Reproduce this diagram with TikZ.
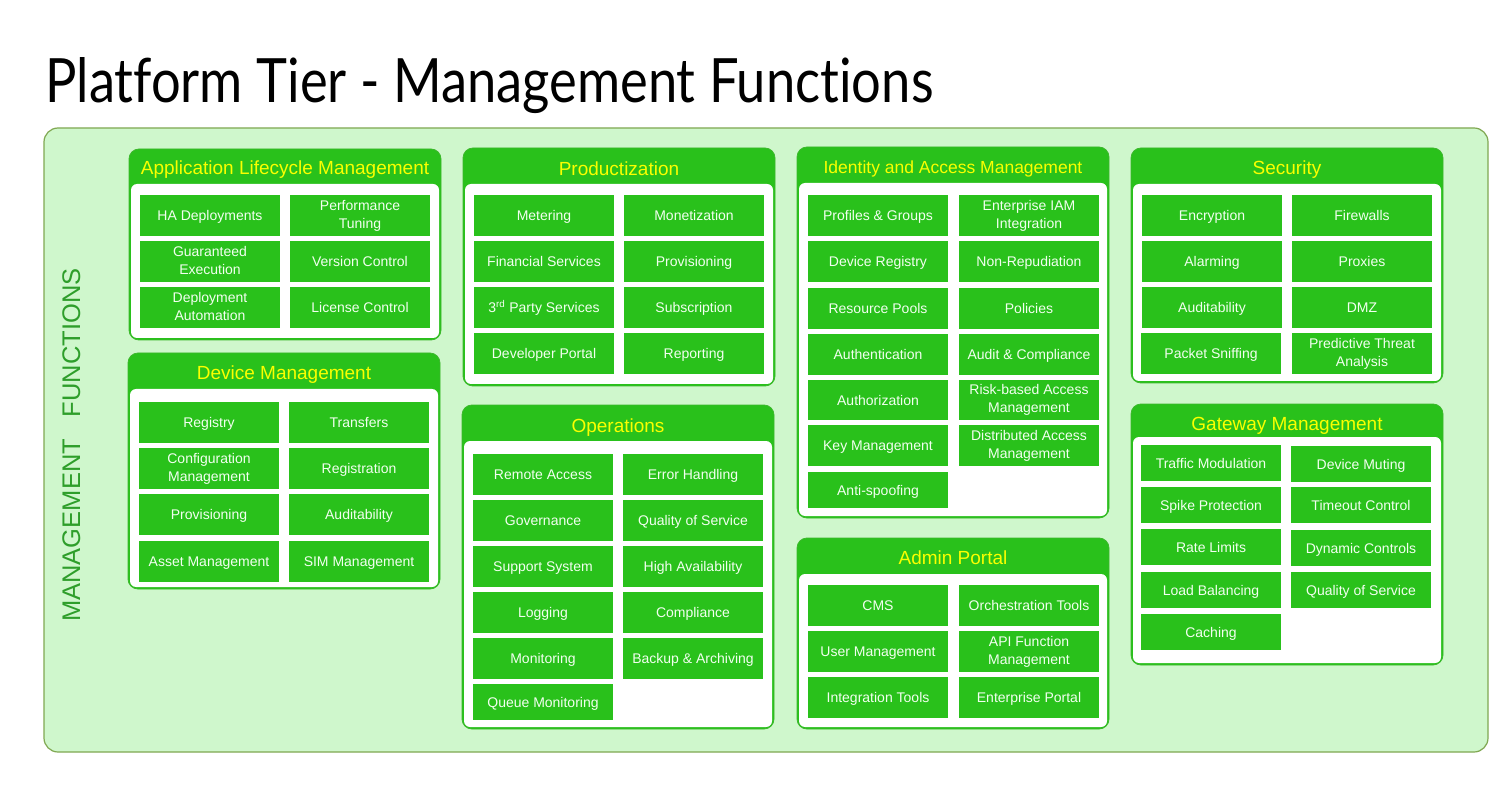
\documentclass[tikz,border=0pt]{standalone}
\usepackage{fontspec}
\usepackage{graphicx}
\setmainfont{Liberation Sans}
\newfontfamily\titlefont[Ligatures={NoCommon}]{Lato}
\definecolor{bgpanel}{RGB}{207,247,204}
\definecolor{bgborder}{RGB}{128,168,82}
\definecolor{pgreen}{RGB}{41,193,27}
\definecolor{pborder}{RGB}{60,184,44}
\definecolor{headyellow}{RGB}{250,255,0}
\definecolor{celltext}{RGB}{242,255,240}
\definecolor{vtext}{RGB}{46,158,42}
\newcommand\mfpanel[5]{%
  \draw[panelbox] (#1,#2) rectangle (#3,#4);
  \fill[innerbox] (#1+2,#5) rectangle (#3-2,#4-2);}
\tikzset{
  outerbox/.style={fill=bgpanel, draw=bgborder, line width=1.2pt, rounded corners=14pt},
  panelbox/.style={fill=pgreen, draw=pborder, line width=0.8pt, rounded corners=10pt},
  innerbox/.style={fill=white, rounded corners=6pt},
  cell/.style={fill=pgreen, text=celltext, minimum width=140pt, minimum height=41pt,
    inner sep=0pt, align=center, font=\fontsize{14}{18}\selectfont,
    execute at begin node={\rule{0pt}{13pt}},
    execute at end node={\rule[-3pt]{0pt}{3pt}}},
  cellh/.style={cell, minimum height=36pt},
  head/.style={text=headyellow, font=\fontsize{19}{22}\selectfont, anchor=base, inner sep=0pt},
  vlabel/.style={text=vtext, font=\fontsize{25.5}{28}\selectfont, anchor=base, inner sep=0pt, rotate=90},
}
\begin{document}
\begin{tikzpicture}[x=1pt, y=-1pt]
\useasboundingbox (0,0) rectangle (1507,799);
\fill[white] (0,0) rectangle (1507,799);

\node[anchor=base west, inner sep=0pt] (title) at (45,103)
  {\resizebox{888pt}{45pt}{\titlefont Plat\kern0pt form Tier - Management Func\kern0pt tions}};

\draw[outerbox] (44,128) rectangle (1488,752);
\node[vlabel] (mf) at (80,445) {MANAGEMENT\hspace{22pt}FUNCTIONS};

% Application Lifecycle Management
\mfpanel{129}{149}{441}{340}{184}
\node[head] (almT) at (285,174.7) {Application Lifecycle Management};
\node[cell] (alm1) at (210,215.5) {HA Deployments};
\node[cell] (alm2) at (360,215.5) {Performance\\Tuning};
\node[cell] (alm3) at (210,261.5) {Guaranteed\\Execution};
\node[cell] (alm4) at (360,261.5) {Version Control};
\node[cell] (alm5) at (210,307.5) {Deployment\\Automation};
\node[cell] (alm6) at (360,307.5) {License Control};

% Device Management
\mfpanel{128}{353}{440}{589}{389}
\node[head] (dmT) at (284,380) {Device Management};
\node[cell] (dm1) at (209,422.5) {Registry};
\node[cell] (dm2) at (359,422.5) {Transfers};
\node[cell] (dm3) at (209,468.5) {Configuration\\Management};
\node[cell] (dm4) at (359,468.5) {Registration};
\node[cell] (dm5) at (209,514.5) {Provisioning};
\node[cell] (dm6) at (359,514.5) {Auditability};
\node[cell] (dm7) at (209,561.5) {Asset Management};
\node[cell] (dm8) at (359,561.5) {SIM Management};

% Productization
\mfpanel{463}{148}{775}{386}{184}
\node[head] (prT) at (619,175.3) {Productization};
\node[cell] (pr1) at (544,215.5) {Metering};
\node[cell] (pr2) at (694,215.5) {Monetization};
\node[cell] (pr3) at (544,261.5) {Financial Services};
\node[cell] (pr4) at (694,261.5) {Provisioning};
\node[cell] (pr5) at (544,307.5) {3\textsuperscript{rd} Party Services};
\node[cell] (pr6) at (694,307.5) {Subscription};
\node[cell] (pr7) at (544,353.5) {Developer Portal};
\node[cell] (pr8) at (694,353.5) {Reporting};

% Operations
\mfpanel{462}{405}{774}{729}{441}
\node[head] (opT) at (618,432.7) {Operations};
\node[cell] (op1) at (543,474.5) {Remote Access};
\node[cell] (op2) at (693,474.5) {Error Handling};
\node[cell] (op3) at (543,520.5) {Governance};
\node[cell] (op4) at (693,520.5) {Quality of Service};
\node[cell] (op5) at (543,566.5) {Support System};
\node[cell] (op6) at (693,566.5) {High Availability};
\node[cell] (op7) at (543,612.5) {Logging};
\node[cell] (op8) at (693,612.5) {Compliance};
\node[cell] (op9) at (543,658.5) {Monitoring};
\node[cell] (op10) at (693,658.5) {Backup \& Archiving};
\node[cellh] (op11) at (543,702) {Queue Monitoring};

% Identity and Access Management
\mfpanel{797}{147}{1109}{518}{183}
\node[head, font=\fontsize{17.5}{20}\selectfont] (iamT) at (953,173.2) {Identity and Access Management};
\node[cell] (iam1) at (878,215.5) {Profiles \& Groups};
\node[cell] (iam2) at (1029,215.5) {Enterprise IAM\\Integration};
\node[cell] (iam3) at (878,261.5) {Device Registry};
\node[cell] (iam4) at (1029,261.5) {Non-Repudiation};
\node[cell] (iam5) at (878,308.5) {Resource Pools};
\node[cell] (iam6) at (1029,308.5) {Policies};
\node[cell] (iam7) at (878,354.5) {Authentication};
\node[cell] (iam8) at (1029,354.5) {Audit \& Compliance};
\node[cell, minimum height=40pt] (iam9) at (878,400) {Authorization};
\node[cell, minimum height=40pt] (iam10) at (1029,400) {Risk-based Access\\Management};
\node[cell] (iam11) at (878,445.5) {Key Management};
\node[cell] (iam12) at (1029,445.5) {Distributed Access\\Management};
\node[cellh] (iam13) at (878,490) {Anti-spoofing};

% Admin Portal
\mfpanel{797}{538}{1109}{729}{574}
\node[head] (adT) at (953,564.3) {Admin Portal};
\node[cell] (ad1) at (878,605.5) {CMS};
\node[cell] (ad2) at (1029,605.5) {Orchestration Tools};
\node[cell] (ad3) at (878,651.5) {User Management};
\node[cell] (ad4) at (1029,651.5) {API Function\\Management};
\node[cell] (ad5) at (878,697.5) {Integration Tools};
\node[cell] (ad6) at (1029,697.5) {Enterprise Portal};

% Security
\mfpanel{1131}{148}{1443}{383}{184}
\node[head] (seT) at (1287,174.3) {Security};
\node[cell] (se1) at (1212,215.5) {Encryption};
\node[cell] (se2) at (1362,215.5) {Firewalls};
\node[cell] (se3) at (1212,261.5) {Alarming};
\node[cell] (se4) at (1362,261.5) {Proxies};
\node[cell] (se5) at (1212,307.5) {Auditability};
\node[cell] (se6) at (1362,307.5) {DMZ};
\node[cell] (se7) at (1211,353.5) {Packet Sniffing};
\node[cell] (se8) at (1362,353.5) {Predictive Threat\\Analysis};

% Gateway Management
\mfpanel{1131}{404}{1443}{665}{437}
\node[head] (gwT) at (1287,430.3) {Gateway Management};
\node[cellh] (gw1) at (1211,463) {Traffic Modulation};
\node[cellh] (gw2) at (1361,464) {Device Muting};
\node[cellh] (gw3) at (1211,505) {Spike Protection};
\node[cellh] (gw4) at (1361,505) {Timeout Control};
\node[cellh] (gw5) at (1211,547) {Rate Limits};
\node[cellh] (gw6) at (1361,548) {Dynamic Controls};
\node[cellh] (gw7) at (1211,590) {Load Balancing};
\node[cellh] (gw8) at (1361,590) {Quality of Service};
\node[cellh] (gw9) at (1211,632) {Caching};
\end{tikzpicture}
\end{document}
